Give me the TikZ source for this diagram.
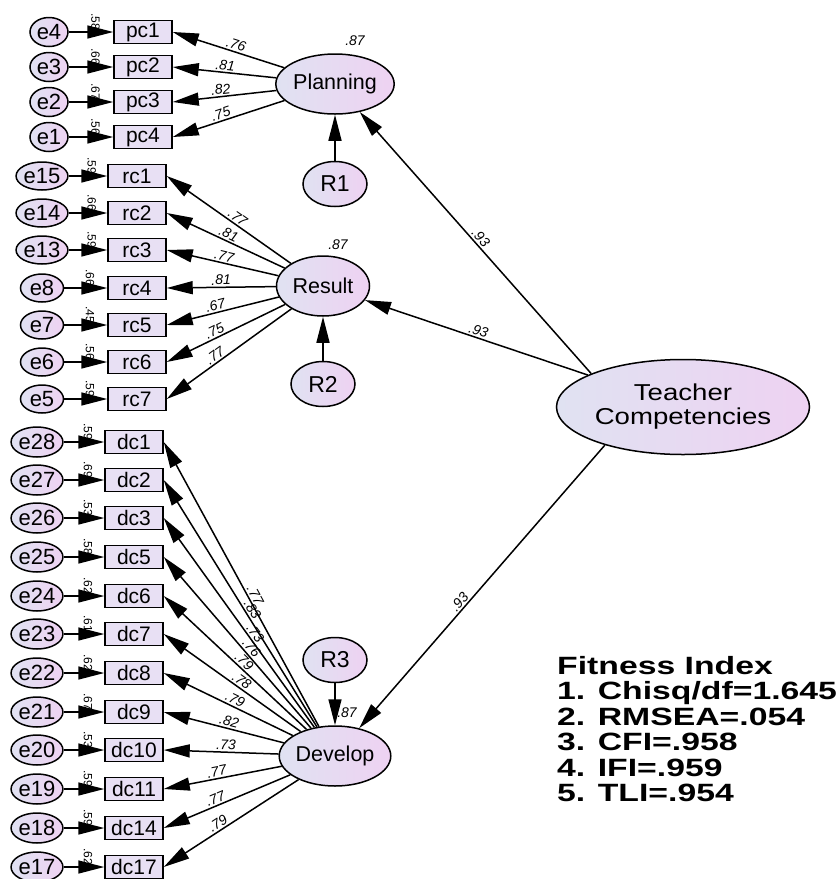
\documentclass[tikz,border=0pt]{standalone}
\usepackage{fontspec}
\setmainfont{Liberation Sans}
\newfontfamily\widefont{Liberation Sans}[FakeStretch=1.35]
\newfontfamily\tcfont{Liberation Sans}[FakeStretch=1.2]
\usetikzlibrary{shapes.geometric,arrows.meta,positioning}
\definecolor{fillL}{RGB}{224,226,242}
\definecolor{fillR}{RGB}{238,210,242}
\definecolor{boxfill}{RGB}{232,224,244}

\tikzset{
  amos/.style={-{Triangle[length=26pt,width=13pt]}, line width=1.5pt},
  errnode/.style={ellipse, draw, line width=1.5pt, left color=fillL, right color=fillR,
    inner sep=0pt, minimum width=43pt, minimum height=29pt, font=\fontsize{22}{23}\selectfont},
  obsbox/.style={rectangle, draw, line width=1.5pt, fill=boxfill, inner sep=0pt,
    minimum width=58pt, minimum height=23pt, font=\fontsize{21}{22}\selectfont},
  latent/.style={ellipse, draw, line width=1.5pt, left color=fillL, right color=fillR,
    inner sep=0pt, minimum width=93pt, minimum height=60pt, font=\fontsize{21.5}{23}\selectfont},
  resid/.style={ellipse, draw, line width=1.5pt, left color=fillL, right color=fillR,
    inner sep=0pt, minimum width=64pt, minimum height=45pt, font=\fontsize{23}{25}\selectfont},
  coef/.style={font=\fontsize{14}{16}\selectfont\itshape, inner sep=1.5pt},
  smc/.style={font=\fontsize{12}{13}\selectfont, inner sep=1pt, rotate=-90, anchor=east},
}

\begin{document}
\begin{tikzpicture}[x=1pt, y=-1pt]
  \useasboundingbox (0,0) rectangle (840,879);

  % Latent factors and residuals
  \node[latent] (plan) at (335,84) {Planning};
  \node[latent] (res)  at (323,286) {Result};
  \node[latent] (dev)  at (335,756) {Develop};
  \node[resid, below=46pt of plan] (r1) {R1};
  \node[resid, below=44pt of res] (r2) {R2};
  \node[resid, above=42pt of dev] (r3) {R3};
  \node[latent, minimum width=253pt, minimum height=95pt, align=center,
        font=\tcfont\fontsize{23}{24}\selectfont] (tc) at (683,407) {Teacher\\Competencies};

  \draw[amos] (r1) -- (plan);
  \draw[amos] (r2) -- (res);
  \draw[amos] (r3) -- (dev);
  \node[coef] at ([xshift=20pt,yshift=13pt]plan.north) {.87};
  \node[coef] at ([xshift=15pt,yshift=11pt]res.north) {.87};
  \node[coef] at ([xshift=12pt,yshift=13pt]dev.north) {.87};

  % Second-order loadings
  \draw[amos] (tc.160) -- node[coef, sloped, above, pos=.5] {.93} (plan);
  \draw[amos] (tc) -- node[coef, sloped, above, pos=.5] {.93} (res);
  \draw[amos] (tc.206) -- node[coef, sloped, above, pos=.57] {.93} (dev);

  % Planning indicators
  \foreach \n/\y/\e/\r/\w/\p in {pc1/32/e4/.58/.76/.45, pc2/67/e3/.66/.81/.5,
      pc3/102/e2/.67/.82/.53, pc4/137/e1/.56/.75/.55} {
    \node[obsbox] (\n) at (143,\y) {\n};
    \node[errnode, minimum width=38pt, minimum height=29pt] (\e) at (49,\y) {\e};
    \draw[amos] (\e) -- node[smc, pos=.6] {\r} (\n);
    \draw[amos] (plan) -- node[coef, sloped, above, pos=\p] {\w} (\n.east);
  }

  % Result indicators
  \foreach \n/\y/\e/\r/\w/\p in {rc1/176/e15/.59/.77/.46, rc2/213/e14/.66/.81/.5,
      rc3/250/e13/.59/.77/.5, rc4/288/e8/.66/.81/.5, rc5/325/e7/.45/.67/.55,
      rc6/362/e6/.56/.75/.57, rc7/399/e5/.59/.77/.58} {
    \node[obsbox] (\n) at (137,\y) {\n};
    \node[errnode, minimum height=28pt] (\e) at (42,\y) {\e};
    \draw[amos] (\e) -- node[smc, pos=.6] {\r} (\n);
    \draw[amos] (res) -- node[coef, sloped, above, pos=\p] {\w} (\n.east);
  }

  % Develop indicators
  \foreach \n/\y/\e/\r/\w/\p in {dc1/442/e28/.59/.77/.45, dc2/480/e27/.69/.83/.46,
      dc3/518/e26/.53/.73/.43, dc5/557/e25/.58/.76/.44, dc6/596/e24/.62/.79/.47,
      dc7/634/e23/.61/.78/.46, dc8/673/e22/.62/.79/.47, dc9/712/e21/.67/.82/.47,
      dc10/750/e20/.53/.73/.46, dc11/789/e19/.59/.77/.54, dc14/828/e18/.59/.77/.57,
      dc17/867/e17/.62/.79/.57} {
    \node[obsbox] (\n) at (134,\y) {\n};
    \node[errnode, minimum height=30pt] (\e) at (37,\y) {\e};
    \draw[amos] (\e) -- node[smc, pos=.6] {\r} (\n);
    \draw[amos] (dev) -- node[coef, sloped, above, pos=\p] {\w} (\n.east);
  }

  % Fit indices
  \node[anchor=west, align=left, inner sep=0pt,
        font=\widefont\bfseries\fontsize{25}{25.4}\selectfont] (fit) at (557,729)
    {Fitness Index\\1. Chisq/df=1.645\\2. RMSEA=.054\\3. CFI=.958\\4. IFI=.959\\5. TLI=.954};
\end{tikzpicture}
\end{document}
